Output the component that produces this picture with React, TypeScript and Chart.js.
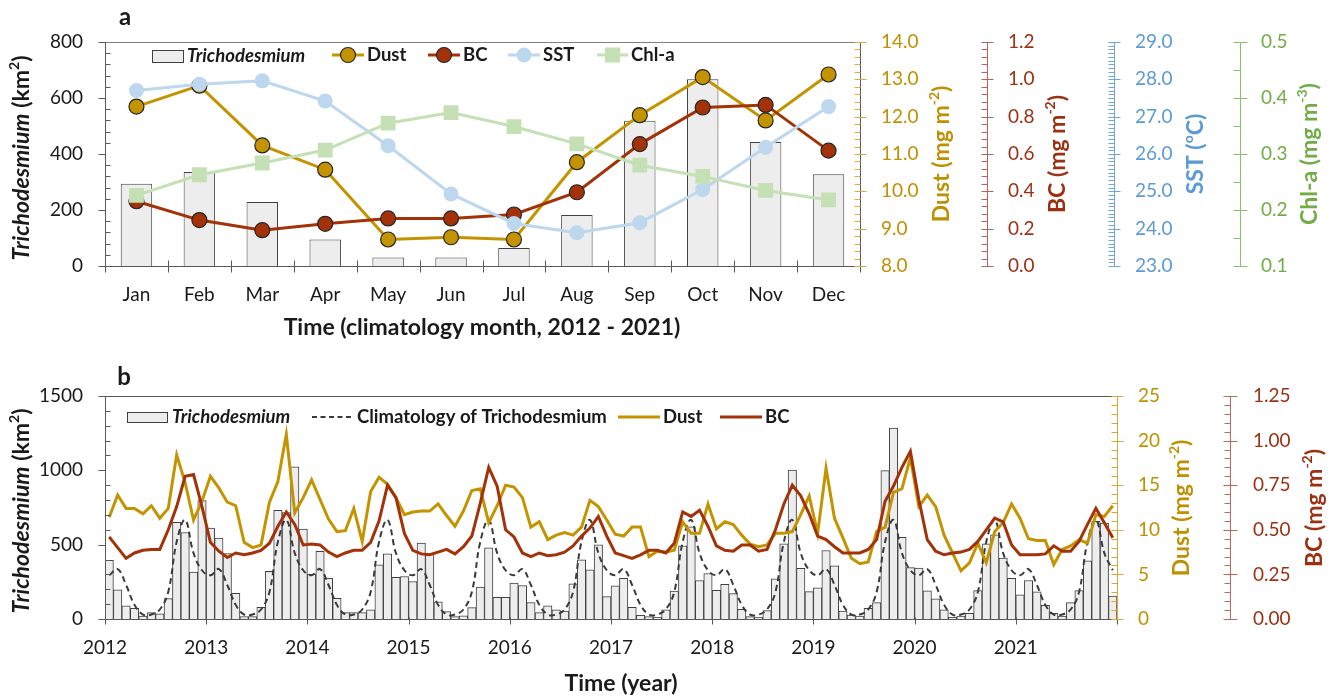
import React, { useEffect, useRef } from 'react';
import { Chart, registerables } from 'chart.js';

Chart.register(...registerables);

const FONT = 'Lato, "Noto Sans", "DejaVu Sans", sans-serif';

// ---------- Panel a: climatology (2012-2021) ----------
const MONTHS = ['Jan', 'Feb', 'Mar', 'Apr', 'May', 'Jun', 'Jul', 'Aug', 'Sep', 'Oct', 'Nov', 'Dec'];
const CLIM_TRICHO = [294, 336, 229, 95, 30, 30, 64, 182, 519, 667, 443, 328];
const CLIM_DUST = [12.27, 12.83, 11.23, 10.58, 8.71, 8.77, 8.71, 10.78, 12.04, 13.06, 11.9, 13.13];
const CLIM_BC = [0.347, 0.246, 0.192, 0.226, 0.255, 0.255, 0.276, 0.395, 0.653, 0.849, 0.863, 0.618];
const CLIM_SST = [27.7, 27.87, 27.96, 27.42, 26.22, 24.93, 24.14, 23.89, 24.16, 25.05, 26.18, 27.27];
const CLIM_CHLA = [0.226, 0.263, 0.284, 0.307, 0.355, 0.374, 0.349, 0.318, 0.28, 0.26, 0.235, 0.218];

// ---------- Panel b: monthly series 2012-2021 ----------
const YEARS = [2012, 2013, 2014, 2015, 2016, 2017, 2018, 2019, 2020, 2021];
const TRICHO_MONTHLY = [
  394, 196, 88, 72, 20, 43, 34, 137, 650, 582, 315, 796,
  612, 544, 440, 173, 16, 16, 79, 320, 731, 715, 1023, 605,
  300, 456, 274, 139, 43, 43, 43, 61, 364, 439, 281, 286,
  252, 510, 440, 115, 50, 16, 22, 76, 214, 479, 146, 146,
  241, 225, 110, 43, 88, 61, 54, 236, 398, 331, 499, 151,
  223, 274, 79, 25, 16, 11, 61, 187, 493, 620, 259, 306,
  193, 234, 171, 65, 16, 11, 56, 270, 506, 1001, 340, 184,
  209, 461, 358, 54, 27, 20, 72, 110, 998, 1284, 549, 346,
  342, 189, 135, 61, 11, 20, 38, 191, 506, 567, 409, 274,
  162, 259, 182, 92, 38, 20, 110, 191, 391, 657, 645, 155,
];
const DUST_MONTHLY = [
  11.4, 13.9, 12.4, 12.4, 11.8, 12.7, 11.3, 12.4, 18.4, 15.3, 11.1, 13.2,
  16.0, 14.7, 13.1, 12.7, 8.6, 8.0, 8.3, 13.1, 15.4, 20.7, 11.9, 13.6,
  15.6, 13.4, 11.2, 9.8, 9.9, 12.4, 8.7, 14.3, 15.9, 15.1, 13.6, 11.7,
  12.0, 12.1, 12.1, 12.9, 11.6, 10.4, 12.1, 14.4, 14.6, 10.8, 12.7, 15.0,
  14.8, 13.6, 10.3, 10.9, 8.9, 9.4, 9.7, 9.4, 10.3, 13.3, 12.6, 11.1,
  9.5, 9.3, 10.3, 10.3, 7.0, 7.6, 7.5, 7.7, 10.9, 9.6, 9.6, 12.9,
  10.1, 10.9, 10.6, 9.4, 8.4, 8.1, 8.3, 9.6, 9.6, 9.8, 11.7, 13.8,
  9.6, 16.9, 11.3, 9.1, 6.8, 6.2, 6.4, 9.8, 10.3, 14.2, 14.6, 18.1,
  12.6, 13.9, 12.6, 9.4, 7.4, 5.4, 6.3, 8.5, 6.3, 9.8, 10.8, 12.9,
  11.3, 9.0, 8.8, 8.8, 6.1, 7.8, 8.2, 8.9, 8.5, 11.7, 11.5, 12.7,
];
const BC_MONTHLY = [
  0.46, 0.4, 0.34, 0.37, 0.385, 0.39, 0.39, 0.5, 0.63, 0.8, 0.81, 0.63,
  0.43, 0.38, 0.345, 0.37, 0.36, 0.37, 0.385, 0.425, 0.52, 0.6, 0.53, 0.415,
  0.42, 0.415, 0.375, 0.35, 0.37, 0.385, 0.385, 0.43, 0.55, 0.75, 0.68, 0.48,
  0.385, 0.365, 0.36, 0.375, 0.39, 0.365, 0.405, 0.465, 0.65, 0.85, 0.745, 0.5,
  0.46, 0.37, 0.35, 0.37, 0.355, 0.36, 0.375, 0.41, 0.465, 0.51, 0.575, 0.465,
  0.37, 0.355, 0.34, 0.36, 0.385, 0.385, 0.37, 0.425, 0.6, 0.575, 0.61, 0.52,
  0.41, 0.385, 0.38, 0.415, 0.415, 0.38, 0.39, 0.5, 0.645, 0.75, 0.69, 0.59,
  0.465, 0.445, 0.405, 0.37, 0.37, 0.37, 0.39, 0.445, 0.66, 0.745, 0.85, 0.94,
  0.67, 0.445, 0.38, 0.36, 0.37, 0.375, 0.39, 0.435, 0.5, 0.565, 0.545, 0.415,
  0.36, 0.36, 0.36, 0.365, 0.41, 0.38, 0.38, 0.435, 0.53, 0.62, 0.54, 0.455,
];

// ---------- colours ----------
const GOLD = '#C49400';
const GOLD_TEXT = '#BF9000';
const BC_COL = '#A33208';
const BC_TEXT = '#9C3012';
const SST_LINE = '#BDD7EE';
const SST_TEXT = '#5B9BD5';
const CHL_LINE = '#C5E0B4';
const CHL_TEXT = '#70AD47';
const BAR_FILL = '#EDEDED';
const BAR_EDGE = '#404040';
const AXIS = '#595959';
const TEXT = '#1a1a1a';

const F = (size: number, bold = true, italic = false) =>
  `${italic ? 'italic ' : ''}${bold ? 'bold ' : ''}${size}px ${FONT}`;

type Seg = { t: string; f: string; dy?: number };
type VAxis = {
  id: string; edge: 'left' | 'right'; toward: number; min: number; max: number;
  major: number; minor: number; lineColor: string; tickColor: string;
  majorIn: number; majorOut: number; minorIn: number;
};
type TitleSpec = { segs: Seg[]; x: number; y: number; rot: number; color: string };
type LegendItem = {
  kind: 'bar' | 'line' | 'dash'; x0: number; x1: number; y: number; h?: number;
  color: string; lw: number; point?: 'circle' | 'rect'; pFill?: string; pStroke?: string;
  pSize?: number; text: Seg[]; tx: number;
};
type OverlaySpec = {
  name: string;
  topBorder: string;
  xTicks: number[]; xUp: number; xDown: number;
  vaxes: VAxis[];
  titles: TitleSpec[];
  legend: LegendItem[];
  letter: { t: string; x: number; y: number };
};

function drawRich(ctx: CanvasRenderingContext2D, segs: Seg[], x: number, y: number, rot: number, color: string, align: 'center' | 'left') {
  ctx.save();
  ctx.translate(x, y);
  ctx.rotate(rot);
  const widths = segs.map((s) => { ctx.font = s.f; return ctx.measureText(s.t).width; });
  const total = widths.reduce((a, b) => a + b, 0);
  let cx = align === 'center' ? -total / 2 : 0;
  ctx.fillStyle = color;
  ctx.textBaseline = 'middle';
  ctx.textAlign = 'left';
  segs.forEach((s, i) => {
    ctx.font = s.f;
    ctx.fillText(s.t, cx, s.dy || 0);
    cx += widths[i];
  });
  ctx.restore();
}

function makeOverlay(spec: OverlaySpec) {
  return {
    id: 'overlay_' + spec.name,
    afterDatasetsDraw(chart: any) {
      const ctx = chart.ctx as CanvasRenderingContext2D;
      const ca = chart.chartArea;
      ctx.save();
      ctx.lineWidth = 1;
      // top frame line
      ctx.strokeStyle = spec.topBorder;
      ctx.beginPath();
      const ty = Math.round(ca.top) + 0.5;
      ctx.moveTo(ca.left, ty); ctx.lineTo(ca.right, ty);
      ctx.stroke();
      // x axis
      const xs = chart.scales.x;
      const by = Math.round(ca.bottom) + 0.5;
      ctx.strokeStyle = AXIS;
      ctx.beginPath();
      ctx.moveTo(ca.left, by); ctx.lineTo(ca.right, by);
      for (const v of spec.xTicks) {
        const px = Math.round(xs.getPixelForValue(v)) + 0.5;
        ctx.moveTo(px, by - spec.xUp); ctx.lineTo(px, by + spec.xDown);
      }
      ctx.stroke();
      // vertical axes
      for (const a of spec.vaxes) {
        const sc = chart.scales[a.id];
        const X = Math.round(a.edge === 'right' ? sc.right : sc.left) + 0.5;
        const top = sc.getPixelForValue(a.max);
        const bot = sc.getPixelForValue(a.min);
        ctx.strokeStyle = a.lineColor;
        ctx.beginPath();
        ctx.moveTo(X, top); ctx.lineTo(X, bot);
        ctx.stroke();
        ctx.strokeStyle = a.tickColor;
        const n = Math.round((a.max - a.min) / a.minor);
        const ratio = Math.round(a.major / a.minor);
        ctx.beginPath();
        for (let k = 0; k <= n; k++) {
          const v = a.min + k * a.minor;
          const y = Math.round(sc.getPixelForValue(v)) + 0.5;
          if (k % ratio === 0) {
            ctx.moveTo(X - a.toward * a.majorOut, y); ctx.lineTo(X + a.toward * a.majorIn, y);
          } else {
            ctx.moveTo(X, y); ctx.lineTo(X + a.toward * a.minorIn, y);
          }
        }
        ctx.stroke();
      }
      // titles
      for (const t of spec.titles) drawRich(ctx, t.segs, t.x, t.y, t.rot, t.color, 'center');
      // legend
      for (const it of spec.legend) {
        if (it.kind === 'bar') {
          ctx.fillStyle = BAR_FILL;
          ctx.strokeStyle = BAR_EDGE;
          const h = it.h || 12;
          ctx.fillRect(it.x0, it.y - h / 2, it.x1 - it.x0, h);
          ctx.strokeRect(it.x0 + 0.5, it.y - h / 2 + 0.5, it.x1 - it.x0, h);
        } else {
          ctx.strokeStyle = it.color;
          ctx.lineWidth = it.lw;
          ctx.setLineDash(it.kind === 'dash' ? [5, 3.5] : []);
          ctx.beginPath();
          ctx.moveTo(it.x0, it.y); ctx.lineTo(it.x1, it.y);
          ctx.stroke();
          ctx.setLineDash([]);
          ctx.lineWidth = 1;
          const cx = (it.x0 + it.x1) / 2;
          const s = it.pSize || 0;
          if (it.point === 'circle') {
            ctx.beginPath();
            ctx.arc(cx, it.y, s, 0, Math.PI * 2);
            ctx.fillStyle = it.pFill || it.color;
            ctx.fill();
            if (it.pStroke) { ctx.strokeStyle = it.pStroke; ctx.lineWidth = 1.2; ctx.stroke(); ctx.lineWidth = 1; }
          } else if (it.point === 'rect') {
            ctx.fillStyle = it.pFill || it.color;
            ctx.fillRect(cx - s, it.y - s, 2 * s, 2 * s);
          }
        }
        drawRich(ctx, it.text, it.tx, it.y, 0, TEXT, 'left');
      }
      // panel letter
      ctx.fillStyle = TEXT;
      ctx.font = F(24);
      ctx.textAlign = 'center';
      ctx.textBaseline = 'middle';
      ctx.fillText(spec.letter.t, spec.letter.x, spec.letter.y);
      ctx.restore();
    },
  };
}

const noGrid = { display: false, drawTicks: false };
const noBorder = { display: false };
const tickFont = { family: FONT, size: 19 };

const TITLE_SIZE = 23;
const SUP_SIZE = 14;
const kmTitle: Seg[] = [
  { t: 'Trichodesmium', f: F(TITLE_SIZE, true, true) },
  { t: ' (km', f: F(TITLE_SIZE) },
  { t: '2', f: F(SUP_SIZE), dy: -8 },
  { t: ')', f: F(TITLE_SIZE) },
];
const unitTitle = (name: string, exp: string): Seg[] => [
  { t: name + ' (mg m', f: F(TITLE_SIZE) },
  { t: exp, f: F(SUP_SIZE), dy: -8 },
  { t: ')', f: F(TITLE_SIZE) },
];
const sstTitle: Seg[] = [
  { t: 'SST (', f: F(TITLE_SIZE) },
  { t: 'o', f: F(SUP_SIZE), dy: -8 },
  { t: 'C)', f: F(TITLE_SIZE) },
];
const LEG = 18.5;
const plain = (v: any) => String(Number(v));

function configA() {
  const overlay = makeOverlay({
    name: 'a',
    topBorder: '#7f7f7f',
    xTicks: [-0.5, 0.5, 1.5, 2.5, 3.5, 4.5, 5.5, 6.5, 7.5, 8.5, 9.5, 10.5, 11.5],
    xUp: 6, xDown: 6,
    vaxes: [
      { id: 'y', edge: 'right', toward: 1, min: 0, max: 800, major: 200, minor: 40, lineColor: AXIS, tickColor: AXIS, majorIn: 0, majorOut: 7, minorIn: 5 },
      { id: 'yDust', edge: 'left', toward: -1, min: 8, max: 14, major: 1, minor: 0.2, lineColor: AXIS, tickColor: '#D9AE3A', majorIn: 6, majorOut: 6, minorIn: 6 },
      { id: 'yBC', edge: 'left', toward: -1, min: 0, max: 1.2, major: 0.2, minor: 0.04, lineColor: '#B4655C', tickColor: '#B4655C', majorIn: 6, majorOut: 6, minorIn: 6 },
      { id: 'ySST', edge: 'left', toward: -1, min: 23, max: 29, major: 1, minor: 0.1, lineColor: '#6FA7DD', tickColor: '#6FA7DD', majorIn: 6, majorOut: 6, minorIn: 6 },
      { id: 'yChl', edge: 'left', toward: -1, min: 0.1, max: 0.5, major: 0.1, minor: 0.05, lineColor: '#8CBF6A', tickColor: '#8CBF6A', majorIn: 7, majorOut: 7, minorIn: 7 },
    ],
    titles: [
      { segs: kmTitle, x: 22, y: 158, rot: -Math.PI / 2, color: TEXT },
      { segs: unitTitle('Dust', '-2'), x: 942, y: 154, rot: -Math.PI / 2, color: GOLD_TEXT },
      { segs: unitTitle('BC', '-2'), x: 1058, y: 154, rot: -Math.PI / 2, color: BC_TEXT },
      { segs: sstTitle, x: 1196, y: 154, rot: -Math.PI / 2, color: SST_TEXT },
      { segs: unitTitle('Chl-a', '-3'), x: 1310, y: 154, rot: -Math.PI / 2, color: CHL_TEXT },
      { segs: [{ t: 'Time (climatology month, 2012 - 2021)', f: F(TITLE_SIZE) }], x: 482, y: 328, rot: 0, color: TEXT },
    ],
    legend: [
      { kind: 'bar', x0: 152, x1: 183, y: 56, h: 12, color: BAR_EDGE, lw: 1, text: [{ t: 'Trichodesmium', f: F(LEG, true, true) }], tx: 187 },
      { kind: 'line', x0: 332, x1: 364, y: 55, color: GOLD, lw: 3, point: 'circle', pFill: GOLD, pStroke: '#262626', pSize: 7.5, text: [{ t: 'Dust', f: F(LEG) }], tx: 367 },
      { kind: 'line', x0: 428, x1: 460, y: 55, color: BC_COL, lw: 3, point: 'circle', pFill: BC_COL, pStroke: '#262626', pSize: 7.5, text: [{ t: 'BC', f: F(LEG) }], tx: 463 },
      { kind: 'line', x0: 508, x1: 540, y: 55, color: SST_LINE, lw: 3, point: 'circle', pFill: SST_LINE, pSize: 7.5, text: [{ t: 'SST', f: F(LEG) }], tx: 543 },
      { kind: 'line', x0: 597, x1: 628, y: 55, color: CHL_LINE, lw: 3, point: 'rect', pFill: CHL_LINE, pSize: 7.5, text: [{ t: 'Chl-a', f: F(LEG) }], tx: 631 },
    ],
    letter: { t: 'a', x: 125, y: 17 },
  });

  const rightAxis = (weight: number, min: number, max: number, step: number, digits: number, color: string, width: number) => ({
    position: 'right', weight, min, max,
    grid: noGrid, border: noBorder,
    ticks: { stepSize: step, color, font: tickFont, padding: 21, callback: (v: any) => Number(v).toFixed(digits) },
    afterFit: (s: any) => { s.width = width; },
  });

  return {
    type: 'bar',
    data: {
      labels: MONTHS,
      datasets: [
        { type: 'bar', label: 'Trichodesmium', data: CLIM_TRICHO, yAxisID: 'y', backgroundColor: BAR_FILL, borderColor: BAR_EDGE, borderWidth: 1, barPercentage: 0.5, categoryPercentage: 1, order: 10 },
        { type: 'line', label: 'Dust', data: CLIM_DUST, yAxisID: 'yDust', borderColor: GOLD, borderWidth: 3, pointRadius: 7.5, pointBackgroundColor: GOLD, pointBorderColor: '#262626', pointBorderWidth: 1.2, tension: 0, order: 4 },
        { type: 'line', label: 'BC', data: CLIM_BC, yAxisID: 'yBC', borderColor: BC_COL, borderWidth: 3, pointRadius: 7.5, pointBackgroundColor: BC_COL, pointBorderColor: '#262626', pointBorderWidth: 1.2, tension: 0, order: 3 },
        { type: 'line', label: 'SST', data: CLIM_SST, yAxisID: 'ySST', borderColor: SST_LINE, borderWidth: 3, pointRadius: 7.5, pointBackgroundColor: SST_LINE, pointBorderWidth: 0, tension: 0, order: 2 },
        { type: 'line', label: 'Chl-a', data: CLIM_CHLA, yAxisID: 'yChl', borderColor: CHL_LINE, borderWidth: 3, pointStyle: 'rect', pointRadius: 10.5, pointBackgroundColor: CHL_LINE, pointBorderWidth: 0, tension: 0, order: 1 },
      ],
    },
    options: {
      responsive: false,
      animation: false,
      events: [],
      layout: { padding: { top: 42, left: 0, right: 0, bottom: 0 } },
      plugins: { legend: { display: false }, tooltip: { enabled: false }, title: { display: false } },
      scales: {
        x: {
          type: 'category', offset: true, grid: noGrid, border: noBorder,
          ticks: { font: tickFont, color: TEXT, padding: 17, maxRotation: 0, autoSkip: false },
          afterFit: (s: any) => { s.height = 79; },
        },
        y: {
          position: 'left', min: 0, max: 800, grid: noGrid, border: noBorder,
          ticks: { stepSize: 200, font: tickFont, color: TEXT, padding: 22, callback: plain },
          afterFit: (s: any) => { s.width = 105; },
        },
        yDust: rightAxis(1, 8, 14, 1, 1, GOLD_TEXT, 127),
        yBC: rightAxis(2, 0, 1.2, 0.2, 1, BC_TEXT, 127),
        ySST: rightAxis(3, 23, 29, 1, 1, SST_TEXT, 126),
        yChl: rightAxis(4, 0.1, 0.5, 0.1, 1, CHL_TEXT, 96),
      },
    },
    plugins: [overlay],
  };
}

function configB() {
  const yearTicks = YEARS.map((_, i) => i * 12).concat([YEARS.length * 12]);
  const overlay = makeOverlay({
    name: 'b',
    topBorder: AXIS,
    xTicks: yearTicks,
    xUp: 2, xDown: 5,
    vaxes: [
      { id: 'y', edge: 'right', toward: 1, min: 0, max: 1500, major: 500, minor: 100, lineColor: AXIS, tickColor: AXIS, majorIn: 0, majorOut: 7, minorIn: 5 },
      { id: 'yDust', edge: 'left', toward: -1, min: 0, max: 25, major: 5, minor: 1, lineColor: '#D6A93A', tickColor: '#D6A93A', majorIn: 6, majorOut: 6, minorIn: 6 },
      { id: 'yBC', edge: 'left', toward: -1, min: 0, max: 1.25, major: 0.25, minor: 0.05, lineColor: '#B86A60', tickColor: '#B86A60', majorIn: 7, majorOut: 7, minorIn: 6 },
    ],
    titles: [
      { segs: kmTitle, x: 22, y: 166, rot: -Math.PI / 2, color: TEXT },
      { segs: unitTitle('Dust', '-2'), x: 1182, y: 163, rot: -Math.PI / 2, color: GOLD_TEXT },
      { segs: unitTitle('BC', '-2'), x: 1315, y: 163, rot: -Math.PI / 2, color: BC_TEXT },
      { segs: [{ t: 'Time (year)', f: F(TITLE_SIZE) }], x: 621, y: 339, rot: 0, color: TEXT },
    ],
    legend: [
      { kind: 'bar', x0: 127, x1: 167, y: 72, h: 10, color: BAR_EDGE, lw: 1, text: [{ t: 'Trichodesmium', f: F(LEG, true, true) }], tx: 172 },
      { kind: 'dash', x0: 312, x1: 353, y: 72, color: '#3a3a3a', lw: 2, text: [{ t: 'Climatology of Trichodesmium', f: F(LEG) }], tx: 357 },
      { kind: 'line', x0: 618, x1: 660, y: 72, color: GOLD, lw: 3, text: [{ t: 'Dust', f: F(LEG) }], tx: 663 },
      { kind: 'line', x0: 720, x1: 762, y: 72, color: BC_COL, lw: 3, text: [{ t: 'BC', f: F(LEG) }], tx: 765 },
    ],
    letter: { t: 'b', x: 124, y: 32 },
  });

  const bars = TRICHO_MONTHLY.map((v, i) => ({ x: i + 0.5, y: v }));
  const clim = TRICHO_MONTHLY.map((_, i) => ({ x: i + 0.5, y: CLIM_TRICHO[i % 12] }));
  const dust = DUST_MONTHLY.map((v, i) => ({ x: i + 0.5, y: v }));
  const bc = BC_MONTHLY.map((v, i) => ({ x: i + 0.5, y: v }));

  return {
    type: 'bar',
    data: {
      datasets: [
        { type: 'bar', label: 'Trichodesmium', data: bars, yAxisID: 'y', backgroundColor: BAR_FILL, borderColor: BAR_EDGE, borderWidth: 1, barPercentage: 1, categoryPercentage: 1, order: 10 },
        { type: 'line', label: 'Climatology of Trichodesmium', data: clim, yAxisID: 'y', borderColor: '#3a3a3a', borderWidth: 2, borderDash: [6, 4], pointRadius: 0, tension: 0.4, order: 3 },
        { type: 'line', label: 'Dust', data: dust, yAxisID: 'yDust', borderColor: GOLD, borderWidth: 3, pointRadius: 0, tension: 0, order: 2 },
        { type: 'line', label: 'BC', data: bc, yAxisID: 'yBC', borderColor: BC_COL, borderWidth: 3, pointRadius: 0, tension: 0, order: 1 },
      ],
    },
    options: {
      responsive: false,
      animation: false,
      events: [],
      layout: { padding: { top: 51, left: 0, right: 0, bottom: 0 } },
      plugins: { legend: { display: false }, tooltip: { enabled: false }, title: { display: false } },
      scales: {
        x: {
          type: 'linear', min: 0, max: YEARS.length * 12, offset: false, grid: noGrid, border: noBorder,
          ticks: {
            stepSize: 12, autoSkip: false, maxRotation: 0, font: tickFont, color: TEXT, padding: 17,
            callback: (v: any) => { const y = YEARS[Math.round(Number(v) / 12)]; return y === undefined ? '' : String(y); },
          },
          afterFit: (s: any) => { s.height = 80; },
        },
        y: {
          position: 'left', min: 0, max: 1500, grid: noGrid, border: noBorder,
          ticks: { stepSize: 500, font: tickFont, color: TEXT, padding: 22, callback: plain },
          afterFit: (s: any) => { s.width = 105; },
        },
        yDust: {
          position: 'right', weight: 1, min: 0, max: 25, grid: noGrid, border: noBorder,
          ticks: { stepSize: 5, font: tickFont, color: GOLD_TEXT, padding: 21, callback: plain },
          afterFit: (s: any) => { s.width = 113; },
        },
        yBC: {
          position: 'right', weight: 2, min: 0, max: 1.25, grid: noGrid, border: noBorder,
          ticks: { stepSize: 0.25, font: tickFont, color: BC_TEXT, padding: 23, callback: (v: any) => Number(v).toFixed(2) },
          afterFit: (s: any) => { s.width = 106; },
        },
      },
    },
    plugins: [overlay],
  };
}

export default function App() {
  const refA = useRef<HTMLCanvasElement>(null);
  const refB = useRef<HTMLCanvasElement>(null);
  useEffect(() => {
    const a = new Chart(refA.current as HTMLCanvasElement, configA() as any);
    const b = new Chart(refB.current as HTMLCanvasElement, configB() as any);
    return () => { a.destroy(); b.destroy(); };
  }, []);
  return (
    <div style={{ position: 'absolute', left: 0, top: 0, width: 1336, height: 699, background: '#fff' }}>
      <canvas ref={refA} width={1336} height={345} style={{ position: 'absolute', left: 0, top: 0 }} />
      <canvas ref={refB} width={1336} height={354} style={{ position: 'absolute', left: 0, top: 345 }} />
    </div>
  );
}
